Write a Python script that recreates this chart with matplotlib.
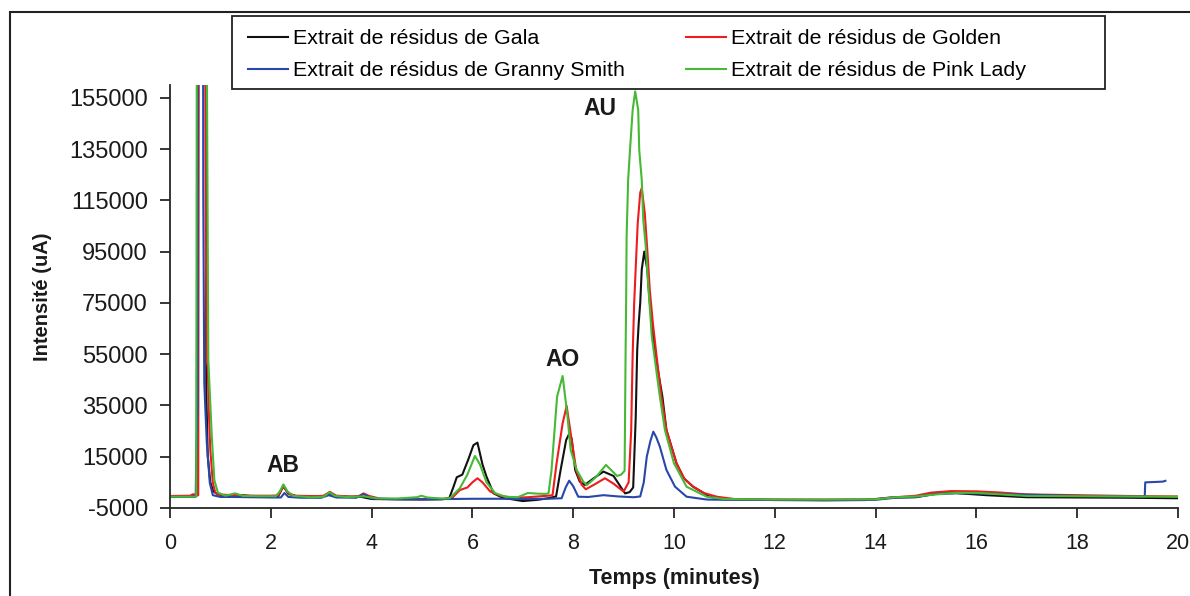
import matplotlib
matplotlib.use("Agg")
import matplotlib.pyplot as plt
from matplotlib.patches import Rectangle

plt.rcParams['font.family'] = ['Liberation Sans', 'DejaVu Sans']

TOP = 300000  # off-scale solvent peak (clipped)

# ---- Gala (black)
t_gala = [0, 0.45, 0.53, 0.56, 0.58, 0.70, 0.72, 0.75, 0.80, 0.86, 0.95, 1.1, 1.3, 1.6, 2.0, 2.15, 2.25,
          2.35, 2.5, 2.9, 3.08, 3.17, 3.28, 3.5, 3.8, 4.0, 4.5, 5.0, 5.4, 5.54, 5.62, 5.69, 5.80, 5.92,
          6.02, 6.10, 6.20, 6.28, 6.42, 6.6, 7.0, 7.3, 7.5, 7.66, 7.75, 7.86, 7.92, 7.97, 8.04, 8.13,
          8.23, 8.40, 8.60, 8.80, 8.95, 9.03, 9.12, 9.19, 9.24, 9.27, 9.30, 9.33, 9.36, 9.41, 9.47,
          9.51, 9.57, 9.67, 9.77, 9.85, 10.05, 10.2, 10.38, 10.71, 11.0, 12.0, 13.0, 13.8, 14.3, 14.8,
          15.2, 15.6, 16.2, 17.0, 18.0, 19.0, 20.0]
v_gala = [-500, -300, -200, TOP, TOP, TOP, 40000, 15000, 5000, 1500, 300, -200, 200, -300, -400, -300,
          3500, 500, -400, -500, -300, 700, -300, -600, -700, -1500, -1600, -1700, -1600, -1200, 3000,
          7000, 8000, 14000, 19500, 20500, 12000, 7200, 700, -1000, -2300, -1800, -1200, -500, 9800,
          21500, 23900, 22000, 9800, 5300, 4000, 6500, 9200, 7500, 3000, 700, 1200, 3000, 30000, 56700,
          67200, 75000, 88000, 95000, 88000, 77400, 64500, 50000, 38400, 25400, 12400, 6500, 3300, -600,
          -1600, -1900, -2000, -1900, -900, -800, 600, 800, 0, -800, -900, -1000, -1200]

# ---- Golden (red)
t_golden = [0, 0.4, 0.46, 0.52, 0.56, 0.58, 0.69, 0.71, 0.73, 0.75, 0.77, 0.80, 0.85, 0.90, 1.0, 1.3, 1.6,
            2.0, 2.15, 2.25, 2.35, 2.5, 2.9, 3.05, 3.17, 3.3, 3.6, 3.75, 3.84, 3.95, 4.2, 4.6, 5.0, 5.4,
            5.6, 5.75, 5.9, 6.0, 6.10, 6.2, 6.35, 6.55, 6.8, 7.1, 7.3, 7.5, 7.59, 7.67, 7.79, 7.87, 7.97,
            8.06, 8.17, 8.25, 8.45, 8.63, 8.80, 9.0, 9.1, 9.15, 9.18, 9.21, 9.25, 9.28, 9.33, 9.36, 9.42,
            9.47, 9.52, 9.58, 9.65, 9.75, 9.85, 10.05, 10.2, 10.38, 10.6, 10.85, 11.2, 12.0, 13.0, 14.0,
            14.4, 14.8, 15.1, 15.5, 16.0, 16.5, 17.0, 18.0, 19.0, 20.0]
v_golden = [-300, -200, 400, -100, 0, TOP, TOP, 100000, 52000, 50000, 33000, 17600, 4800, 900, 200, 0, -200,
            -200, -100, 3800, 600, -200, -400, -200, 1300, -200, -500, -300, 700, -300, -1500, -1500, -1500,
            -1500, -1000, 2000, 3000, 5000, 6600, 5000, 1500, -200, -1000, -800, -500, -200, 0, 12400,
            28000, 34800, 21500, 9800, 4000, 2300, 4500, 6600, 4500, 1400, 5000, 25000, 55000, 75000, 93000,
            106000, 118000, 119800, 110000, 95700, 80000, 67200, 55000, 38400, 25400, 12400, 6500, 3300,
            800, -600, -1500, -1700, -1700, -1600, -800, -200, 1000, 1600, 1500, 1000, 300, 0, -300, -500]

# ---- Granny Smith (blue)
t_granny = [0, 0.45, 0.51, 0.52, 0.55, 0.56, 0.65, 0.66, 0.68, 0.73, 0.79, 0.85, 1.0, 1.3, 1.6, 2.0, 2.2,
            2.27, 2.35, 2.6, 3.0, 3.15, 3.3, 3.7, 3.84, 4.0, 4.5, 5.0, 5.5, 6.0, 6.5, 7.0, 7.5, 7.77, 7.85,
            7.92, 8.0, 8.10, 8.3, 8.6, 8.9, 9.2, 9.33, 9.40, 9.46, 9.53, 9.59, 9.65, 9.72, 9.85, 10.02,
            10.25, 10.65, 11.0, 12.0, 13.0, 14.0, 14.4, 14.8, 15.2, 15.6, 16.0, 17.0, 18.0, 19.0, 19.34,
            19.35, 19.6, 19.7, 19.75]
v_granny = [-700, -700, -600, 14000, 34400, TOP, TOP, 118000, 43800, 20400, 4760, 0, -700, -700, -800, -900,
            -900, 850, -700, -1000, -1000, 0, -900, -1000, 400, -1300, -1600, -1600, -1500, -1400, -1400,
            -1500, -1400, -1200, 3000, 5650, 3500, -600, -700, 0, -500, -800, -500, 5000, 15000, 21000,
            24780, 22500, 18900, 9830, 3320, -600, -1700, -1800, -1800, -1900, -1800, -1000, -700, 500,
            800, 700, 200, -300, -500, -600, 5000, 5200, 5300, 5600]

# ---- Pink Lady (green)
t_pink = [0, 0.45, 0.52, 0.54, 0.70, 0.76, 0.83, 0.88, 0.95, 1.1, 1.29, 1.45, 1.8, 2.1, 2.18, 2.25, 2.33,
          2.45, 2.8, 3.05, 3.16, 3.28, 3.5, 3.85, 4.1, 4.5, 4.9, 4.99, 5.1, 5.4, 5.55, 5.75, 5.9, 6.05,
          6.15, 6.28, 6.45, 6.65, 6.9, 7.1, 7.3, 7.45, 7.51, 7.57, 7.68, 7.79, 7.88, 7.95, 8.07, 8.20,
          8.27, 8.45, 8.65, 8.87, 8.95, 9.02, 9.04, 9.05, 9.06, 9.09, 9.14, 9.18, 9.23, 9.29, 9.31, 9.36,
          9.39, 9.44, 9.49, 9.56, 9.64, 9.72, 9.82, 10.0, 10.25, 10.65, 11.0, 12.0, 13.0, 14.0, 14.4,
          14.8, 15.2, 15.6, 16.0, 17.0, 18.0, 19.0, 20.0]
v_pink = [-600, -600, -500, TOP, TOP, 52800, 22700, 5900, 1000, -200, 700, -300, -400, -400, 1500, 4200, 1500,
          -300, -800, -600, 1100, -300, -700, -500, -1200, -1300, -800, -200, -900, -1300, -1200, 2700,
          8000, 15300, 12000, 5000, 800, -600, -800, 850, 600, 500, 700, 9800, 38400, 46500, 32000,
          17600, 9800, 5300, 3900, 7000, 11800, 7500, 8000, 9500, 56700, 75000, 100900, 123000, 138600,
          150300, 157500, 150300, 134700, 123000, 107400, 97000, 81400, 61850, 50000, 38400, 25400, 12400,
          3300, -600, -1500, -1700, -1700, -1600, -800, -500, 300, 900, 900, -300, -400, -500, -600]

labels = ["Extrait de résidus de Gala", "Extrait de résidus de Golden",
          "Extrait de résidus de Granny Smith", "Extrait de résidus de Pink Lady"]
colors = ["#111111", "#ee1c1c", "#2847a8", "#46b935"]

x_ticks = list(range(0, 21, 2))
y_ticks = list(range(-5000, 160000, 20000))
peak_names = ["AB", "AO", "AU"]
peak_pos_t = [2.24, 7.79, 8.53]
peak_pos_v = [11400, 52800, 151000]

W, H = 1190, 596
fig = plt.figure(figsize=(W / 100, H / 100), dpi=100)
ax = fig.add_axes([170 / W, 1 - 508 / H, (1178 - 170) / W, (508 - 85) / H])

series = [(t_gala, v_gala), (t_golden, v_golden), (t_granny, v_granny), (t_pink, v_pink)]
lines = []
for (t, v), c, lab in zip(series, colors, labels):
    ln, = ax.plot(t, v, color=c, lw=1.5, label=lab)
    lines.append(ln)

ax.set_xlim(0, 20)
ax.set_ylim(-5000, 160000)
ax.set_xticks(x_ticks)
ax.set_yticks(y_ticks)
ax.set_yticklabels([str(v) for v in y_ticks])
for s in ['top', 'right']:
    ax.spines[s].set_visible(False)
for s in ['left', 'bottom']:
    ax.spines[s].set_color('#262626')
    ax.spines[s].set_linewidth(1.3)
ax.tick_params(axis='both', direction='out', color='#262626', width=1.3, length=7, labelcolor='#1a1a1a')
ax.tick_params(axis='x', labelsize=15.5, pad=11)
ax.tick_params(axis='y', labelsize=17, pad=9)

ax.set_xlabel("Temps (minutes)", fontsize=15.5, fontweight='bold', color='#1a1a1a', labelpad=10)
ax.set_ylabel("Intensité (uA)", fontsize=14.5, fontweight='bold', color='#1a1a1a', labelpad=12)

for name, tt, vv in zip(peak_names, peak_pos_t, peak_pos_v):
    ax.text(tt, vv, name, fontsize=16.5, fontweight='bold', ha='center', va='center', color='#1a1a1a')

# legend frame drawn separately at its exact place
fig.patches.append(Rectangle((232 / W, 1 - 89 / H), (1105 - 232) / W, (89 - 16) / H,
                             transform=fig.transFigure, fill=True, fc='white', lw=1.3,
                             ec='#222222', zorder=5))
order = [0, 2, 1, 3]
leg = fig.legend([lines[i] for i in order], [labels[i] for i in order], ncol=2,
                 loc='upper left', bbox_to_anchor=(248 / W, 1 - 29 / H),
                 bbox_transform=fig.transFigure, fontsize=15.4, frameon=False,
                 handlelength=1.87, handletextpad=0.25, columnspacing=2.83,
                 labelspacing=0.62, borderpad=0, borderaxespad=0)
leg.set_zorder(6)

fig.patches.append(Rectangle((10 / W, -0.1), 1.2, 1.1 - 12 / H, transform=fig.transFigure,
                             fill=False, lw=1.5, ec='#222222', clip_on=False))

fig.savefig("out.png", dpi=100)
